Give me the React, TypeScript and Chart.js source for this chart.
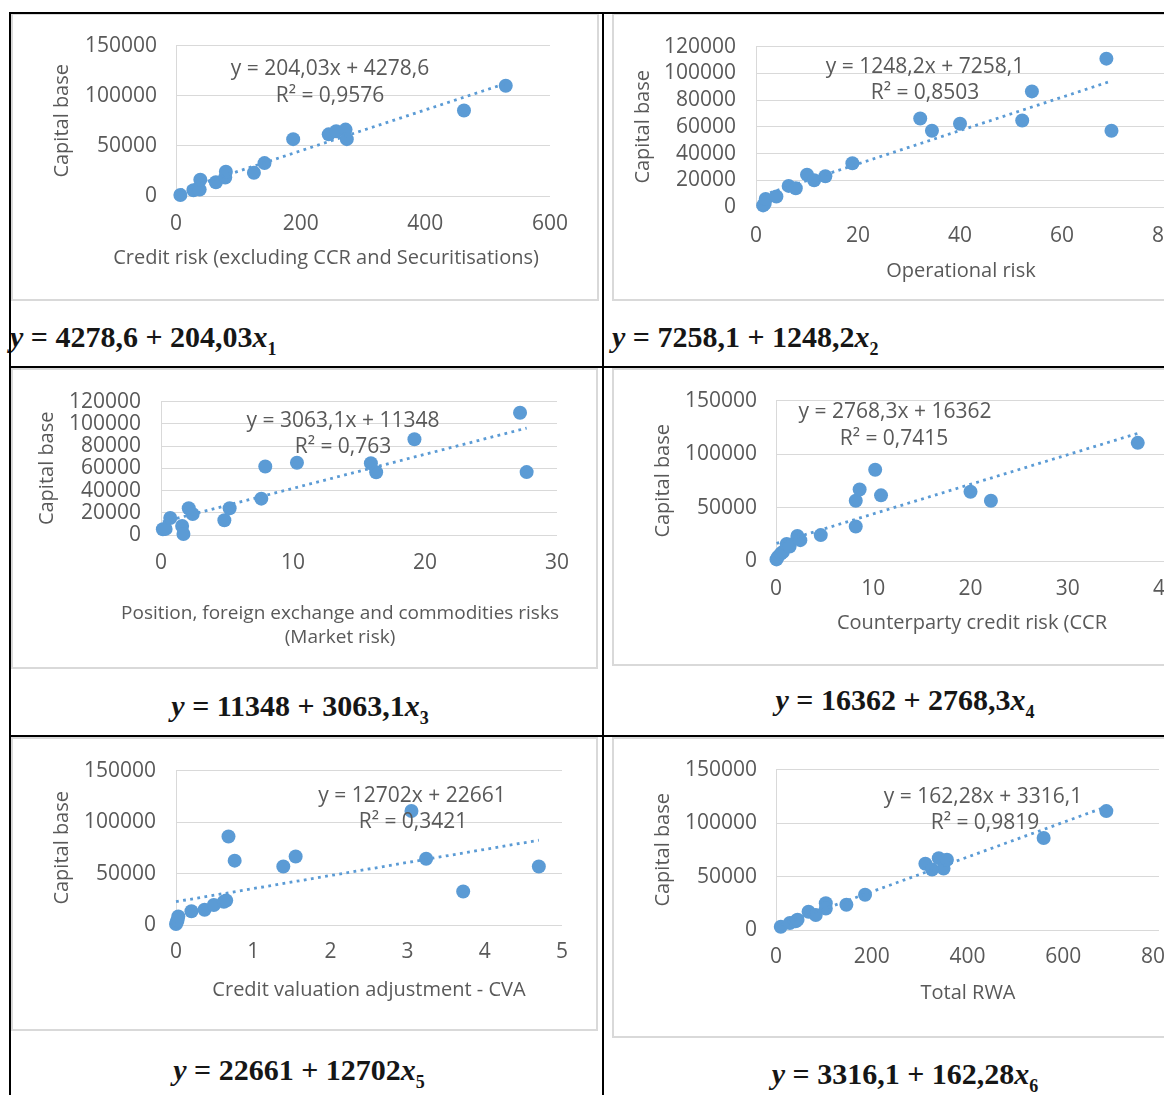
import React, { useEffect, useRef } from "react";
import { Chart, registerables } from "chart.js";

Chart.register(...registerables);

const FONT = "'Open Sans', 'Noto Sans', sans-serif";
const TEXT = "#595959";
const BLUE = "#5b9bd5";
const GRID = "#d9d9d9";

// ---------- data ----------
const creditRiskX = [7, 28, 35, 38, 39, 64, 79, 80, 125, 142, 188, 245, 257, 272, 274, 462, 529];
const creditRiskY = [1000, 5700, 7000, 6400, 16200, 13700, 18500, 24200, 23200, 32800, 56700, 61500, 64600, 66200, 56700, 85300, 109900];

const operationalX = [1.4, 1.7, 1.9, 4.0, 6.4, 7.8, 10.0, 11.4, 13.6, 18.9, 32.2, 34.5, 40.0, 52.2, 54.1, 68.7, 69.7];
const operationalY = [1200, 2400, 6000, 7800, 15800, 14000, 24200, 20000, 23000, 32700, 66200, 57000, 62300, 64700, 86500, 111000, 57000];

const marketX = [0.14, 0.35, 0.7, 1.6, 1.7, 2.1, 2.4, 4.8, 5.2, 7.6, 7.9, 10.3, 15.9, 16.3, 19.2, 27.2, 27.7];
const marketY = [5200, 5500, 15300, 8100, 900, 24000, 18800, 13300, 24000, 32700, 61600, 65000, 64500, 56400, 86100, 110000, 56600];

const ccrX = [0.05, 0.2, 0.5, 0.7, 1.1, 1.4, 2.2, 2.5, 4.6, 8.2, 8.2, 8.6, 10.2, 10.8, 20.0, 22.1, 37.2];
const ccrY = [1500, 3900, 6900, 8400, 15900, 13500, 23400, 19500, 24200, 32300, 56300, 66800, 85300, 61400, 64700, 56300, 110500];

const cvaX = [0.0, 0.01, 0.02, 0.03, 0.2, 0.37, 0.49, 0.62, 0.65, 0.68, 0.76, 1.39, 1.55, 3.05, 3.24, 3.72, 4.7];
const cvaY = [900, 3000, 4600, 8300, 13300, 14800, 19500, 22600, 23800, 86000, 62500, 56900, 66500, 110700, 64300, 32500, 56900];

const rwaX = [10, 29, 41, 45, 68, 83, 104, 104, 147, 186, 312, 326, 340, 350, 357, 559, 690];
const rwaY = [3000, 6600, 8100, 9600, 17000, 14000, 25100, 20000, 23600, 32900, 61900, 56500, 67200, 57400, 65700, 86100, 111200];

// trendline coefficients (from the equations shown)
const slopes = [204.03, 1248.2, 3063.1, 2768.3, 12702, 162.28];
const intercepts = [4278.6, 7258.1, 11348, 16362, 22661, 3316.1];

const slopeLabels = ["204,03", "1248,2", "3063,1", "2768,3", "12702", "162,28"];
const interceptLabels = ["4278,6", "7258,1", "11348", "16362", "22661", "3316,1"];
const r2Labels = ["0,9576", "0,8503", "0,763", "0,7415", "0,3421", "0,9819"];

const xAxisMax = [600, 80, 30, 40, 5, 800];
const xAxisStep = [200, 20, 10, 10, 1, 200];
const yAxisMax = [150000, 120000, 120000, 150000, 150000, 150000];
const yAxisStep = [50000, 20000, 20000, 50000, 50000, 50000];

const xTitles = [
  ["Credit risk (excluding CCR and Securitisations)"],
  ["Operational risk"],
  ["Position, foreign exchange and commodities risks", "(Market risk)"],
  ["Counterparty credit risk (CCR"],
  ["Credit valuation adjustment - CVA"],
  ["Total RWA"],
];
const yTitle = "Capital base";

const seriesX = [creditRiskX, operationalX, marketX, ccrX, cvaX, rwaX];
const seriesY = [creditRiskY, operationalY, marketY, ccrY, cvaY, rwaY];

// ---------- layout (page pixel coordinates) ----------
type Layout = {
  L: number; T: number; W: number; H: number;
  plotL: number; plotR: number; plotT: number; plotB: number;
  yTitleX: number; yTickPad: number; xTickPad: number;
  xTitlePos: [number, number][]; xTitleSize: number;
  eqPos: [number, number]; r2Pos: [number, number];
  frame: [number, number, number, number];
};

const layouts: Layout[] = [
  { L: 12, T: 14, W: 586, H: 286, plotL: 176, plotR: 550, plotT: 40, plotB: 196, yTitleX: 62, yTickPad: 19, xTickPad: 15,
    xTitlePos: [[326, 258]], xTitleSize: 20, eqPos: [330, 69], r2Pos: [330, 96], frame: [11, 13, 599, 301] },
  { L: 614, T: 14, W: 586, H: 286, plotL: 756, plotR: 1164, plotT: 42, plotB: 207, yTitleX: 643, yTickPad: 20, xTickPad: 16,
    xTitlePos: [[961, 271]], xTitleSize: 20, eqPos: [925, 67], r2Pos: [925, 93], frame: [612, 13, 1200, 301] },
  { L: 12, T: 369, W: 585, H: 299, plotL: 161, plotR: 557, plotT: 396, plotB: 535, yTitleX: 47, yTickPad: 20, xTickPad: 15,
    xTitlePos: [[340, 614], [340, 638]], xTitleSize: 19, eqPos: [343, 421], r2Pos: [343, 447], frame: [11, 368, 598, 669] },
  { L: 614, T: 369, W: 586, H: 296, plotL: 776, plotR: 1165, plotT: 394, plotB: 561, yTitleX: 663, yTickPad: 19, xTickPad: 15,
    xTitlePos: [[972, 623]], xTitleSize: 20, eqPos: [895, 412], r2Pos: [894, 439], frame: [612, 368, 1200, 666] },
  { L: 12, T: 738, W: 585, H: 292, plotL: 176, plotR: 562, plotT: 762, plotB: 925, yTitleX: 62, yTickPad: 20, xTickPad: 14,
    xTitlePos: [[369, 990]], xTitleSize: 20, eqPos: [412, 796], r2Pos: [413, 822], frame: [11, 737, 598, 1031] },
  { L: 614, T: 738, W: 586, H: 299, plotL: 776, plotR: 1159, plotT: 762, plotB: 930, yTitleX: 663, yTickPad: 19, xTickPad: 14,
    xTitlePos: [[968, 993]], xTitleSize: 20, eqPos: [983, 797], r2Pos: [985, 823], frame: [612, 737, 1200, 1038] },
];

const equations = [
  { x: 10, y: 337, center: false },
  { x: 612, y: 337, center: false },
  { x: 300, y: 706, center: true },
  { x: 905, y: 700, center: true },
  { x: 299, y: 1070, center: true },
  { x: 905, y: 1074, center: true },
];

function ScatterPanel({ idx }: { idx: number }) {
  const ref = useRef<HTMLCanvasElement | null>(null);
  const lay = layouts[idx];

  useEffect(() => {
    if (!ref.current) return;
    const xs = seriesX[idx];
    const ys = seriesY[idx];
    const pts = xs.map((x, i) => ({ x, y: ys[i] }));
    const xmin = Math.min(...xs);
    const xmax = Math.max(...xs);
    const trend = [
      { x: xmin, y: slopes[idx] * xmin + intercepts[idx] },
      { x: xmax, y: slopes[idx] * xmax + intercepts[idx] },
    ];
    const labels: { text: string; x: number; y: number; size: number }[] = [];
    xTitles[idx].forEach((t, i) => {
      labels.push({ text: t, x: lay.xTitlePos[i][0], y: lay.xTitlePos[i][1], size: lay.xTitleSize });
    });
    labels.push({ text: `y = ${slopeLabels[idx]}x + ${interceptLabels[idx]}`, x: lay.eqPos[0], y: lay.eqPos[1], size: 21 });
    labels.push({ text: `R\u00B2 = ${r2Labels[idx]}`, x: lay.r2Pos[0], y: lay.r2Pos[1], size: 21 });

    const textPlugin = {
      id: "panelTexts" + idx,
      afterDraw(chart: any) {
        const ctx = chart.ctx as CanvasRenderingContext2D;
        ctx.save();
        ctx.fillStyle = TEXT;
        ctx.textAlign = "center";
        ctx.textBaseline = "middle";
        for (const t of labels) {
          ctx.font = `${t.size}px ${FONT}`;
          ctx.fillText(t.text, t.x - lay.L, t.y - lay.T);
        }
        ctx.restore();
      },
    };

    const chart = new Chart(ref.current, {
      type: "scatter",
      data: {
        datasets: [
          {
            type: "line",
            data: trend,
            borderColor: BLUE,
            borderWidth: 2.8,
            borderDash: [2.8, 4.4],
            pointRadius: 0,
            fill: false,
            order: 0,
            clip: false,
          } as any,
          {
            data: pts,
            backgroundColor: BLUE,
            borderColor: BLUE,
            borderWidth: 0,
            pointRadius: 7,
            pointHoverRadius: 7,
            order: 1,
            clip: false,
          } as any,
        ],
      },
      options: {
        responsive: false,
        animation: false,
        events: [],
        layout: {
          autoPadding: false,
          padding: { left: 0, top: lay.plotT - lay.T, right: lay.L + lay.W - lay.plotR, bottom: 0 },
        },
        plugins: { legend: { display: false }, tooltip: { enabled: false } },
        scales: {
          x: {
            type: "linear",
            min: 0,
            max: xAxisMax[idx],
            ticks: {
              stepSize: xAxisStep[idx],
              padding: lay.xTickPad,
              color: TEXT,
              font: { size: 21, family: FONT },
              maxRotation: 0,
              autoSkip: false,
              callback: (v: any) => String(v),
            },
            grid: { display: false, drawTicks: false },
            border: { display: false },
            afterFit: (s: any) => {
              s.height = lay.T + lay.H - lay.plotB;
            },
          },
          y: {
            type: "linear",
            min: 0,
            max: yAxisMax[idx],
            ticks: {
              stepSize: yAxisStep[idx],
              padding: lay.yTickPad,
              color: TEXT,
              font: { size: 21, family: FONT },
              autoSkip: false,
              callback: (v: any) => String(v),
            },
            grid: { color: GRID, lineWidth: 1, drawTicks: false },
            border: { display: true, color: GRID, width: 1 },
            title: {
              display: true,
              text: yTitle,
              color: TEXT,
              font: { size: 20, family: FONT },
              padding: { top: lay.yTitleX - lay.L - 12, bottom: 0 },
            },
            afterFit: (s: any) => {
              s.width = lay.plotL - lay.L;
            },
          },
        },
      } as any,
      plugins: [textPlugin],
    });
    return () => chart.destroy();
  }, [idx]);

  const [fl, ft, fr, fb] = lay.frame;
  return (
    <>
      <div
        style={{
          position: "absolute",
          left: fl,
          top: ft,
          width: fr - fl,
          height: fb - ft,
          boxSizing: "border-box",
          border: `2px solid ${GRID}`,
          background: "#fff",
        }}
      />
      <canvas
        ref={ref}
        width={lay.W}
        height={lay.H}
        style={{ position: "absolute", left: lay.L, top: lay.T, width: lay.W, height: lay.H }}
      />
    </>
  );
}

function Equation({ idx }: { idx: number }) {
  const e = equations[idx];
  return (
    <div
      style={{
        position: "absolute",
        left: e.x,
        top: e.y,
        transform: e.center ? "translate(-50%, -50%)" : "translateY(-50%)",
        fontFamily: "'Liberation Serif', 'DejaVu Serif', serif",
        fontWeight: "bold",
        fontSize: 30,
        lineHeight: 1,
        whiteSpace: "nowrap",
        color: "#161616",
      }}
    >
      <i>y</i> = {interceptLabels[idx]} + {slopeLabels[idx]}
      <i>x</i>
      <span style={{ fontSize: 18, position: "relative", top: 8 }}>{idx + 1}</span>
    </div>
  );
}

function Line({ l, t, w, h }: { l: number; t: number; w: number; h: number }) {
  return <div style={{ position: "absolute", left: l, top: t, width: w, height: h, background: "#000" }} />;
}

export default function App() {
  return (
    <div
      style={{
        position: "absolute",
        left: 0,
        top: 0,
        width: 1164,
        height: 1095,
        overflow: "hidden",
        background: "#fff",
      }}
    >
      {layouts.map((_, i) => (
        <ScatterPanel key={i} idx={i} />
      ))}
      {equations.map((_, i) => (
        <Equation key={"e" + i} idx={i} />
      ))}
      <Line l={9} t={12} w={1200} h={2} />
      <Line l={9} t={12} w={2} h={1100} />
      <Line l={602} t={12} w={2} h={1100} />
      <Line l={9} t={366} w={1200} h={2} />
      <Line l={9} t={735} w={1200} h={2} />
    </div>
  );
}
